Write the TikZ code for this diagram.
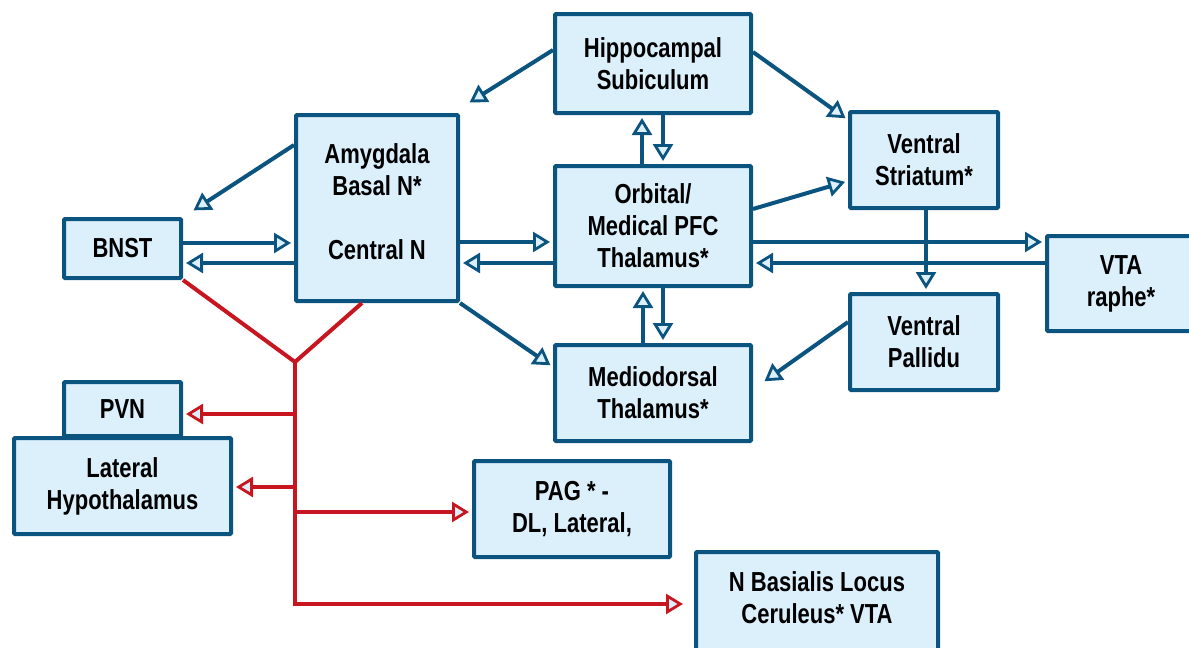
\documentclass[tikz,border=0pt]{standalone}
\usepackage{fontspec}
\newfontfamily\labfont{Liberation Sans}[FakeStretch=0.8]
\usetikzlibrary{arrows.meta,calc}
\definecolor{bstroke}{RGB}{12,84,128}
\definecolor{bfill}{RGB}{220,240,252}
\definecolor{redc}{RGB}{200,22,32}
\begin{document}
\begin{tikzpicture}[x=1pt,y=-1pt,
  lab/.style={align=center, text=black, font=\labfont\bfseries\fontsize{27.5}{32}\selectfont},
  box/.style={lab, draw=bstroke, fill=bfill, line width=4pt, rounded corners=1pt, inner sep=0pt},
  tipstyle/.style={-{Triangle[length=17pt,width=20pt,line width=2.8pt,fill=bfill]}},
  barr/.style={draw=bstroke, line width=4pt, shorten >=3pt, tipstyle},
  rarr/.style={draw=redc, line width=4pt, shorten >=3pt, tipstyle},
  redline/.style={draw=redc, line width=4pt}]
\useasboundingbox (0,0) rectangle (1189,648);
\clip (0,0) rectangle (1189,648);

% boxes
\node[box, minimum width=196pt, minimum height=99pt] (hip) at (653,63.5) {Hippocampal\\Subiculum};
\node[box, minimum width=162pt, minimum height=186pt] (amy) at (377,208) {};
\node[lab] (amytext) at (377,201.5) {Amygdala\\Basal N*\\[32pt]Central N};
\node[box, minimum width=117pt, minimum height=59pt] (bnst) at (122.5,248.5) {BNST};
\node[box, minimum width=196pt, minimum height=120pt] (orb) at (653,226) {Orbital/\\Medical PFC\\Thalamus*};
\node[box, minimum width=196pt, minimum height=96pt] (md) at (653,393) {Mediodorsal\\Thalamus*};
\node[box, minimum width=148pt, minimum height=96pt] (vs) at (924,160) {Ventral\\Striatum*};
\node[box, minimum width=148pt, minimum height=96pt] (vp) at (924,342) {Ventral\\Pallidu};
\node[box, minimum width=148pt, minimum height=95pt] (vta) at (1121,283.5) {VTA\\raphe*};
\node[box, minimum width=117pt, minimum height=54pt] (pvn) at (122.5,409) {PVN};
\node[box, minimum width=217pt, minimum height=96pt] (lh) at (122.5,486) {Lateral\\Hypothalamus};
\node[box, minimum width=196pt, minimum height=96pt] (pag) at (572,509) {PAG * -\\DL, Lateral,};
\node[box, minimum width=242pt, minimum height=108pt] (nb) at (817,606) {};
\node[lab] (nbtext) at (817,598) {N Basialis Locus\\Ceruleus* VTA};

% blue connectors
\draw[barr] (hip.west |- 0,50) -- ($(amy.north east)+(7,-9)$);
\draw[barr] (hip.east |- 0,52) -- (vs.west |- 0,120);
\draw[barr] (orb.north -| 642,0) -- (hip.south -| 642,0);
\draw[barr] (hip.south -| 663,0) -- (orb.north -| 663,0);
\draw[barr] (orb.east |- 0,209) -- (vs.west |- 0,181);
\draw[barr] (orb.east |- 0,242) -- (vta.west |- 0,242);
\draw[barr] (vta.west |- 0,263) -- (orb.east |- 0,263);
\draw[barr] (vs.south -| 926,0) -- (vp.north -| 926,0);
\draw[barr] (orb.south -| 663,0) -- (md.north -| 663,0);
\draw[barr] (md.north -| 643,0) -- (orb.south -| 643,0);
\draw[barr] (vp.west |- 0,322) -- ($(md.east |- 0,383)+(9,0)$);
\draw[barr] (amy.south east) -- (md.west |- 0,367);
\draw[barr] (amy.west |- 0,145) -- ($(bnst.north east)+(8,-5)$);
\draw[barr] (bnst.east |- 0,243) -- (amy.west |- 0,243);
\draw[barr] (amy.west |- 0,263) -- (bnst.east |- 0,263);
\draw[barr] (amy.east |- 0,242) -- (orb.west |- 0,242);
\draw[barr] (orb.west |- 0,263) -- (amy.east |- 0,263);

% red connectors
\coordinate (j) at (295,362);
\coordinate (jb) at (295,604);
\draw[redline, line join=miter] (bnst.south east) -- (j) -- (amy.south -| 362,0);
\draw[rarr, shorten >=11pt] (j) -- (jb) -- (nb.west |- jb);
\draw[rarr] (j |- 0,414) -- (pvn.east |- 0,414);
\draw[rarr] (j |- 0,487) -- (lh.east |- 0,487);
\draw[rarr] (j |- 0,512) -- (pag.west |- 0,512);
\end{tikzpicture}
\end{document}
